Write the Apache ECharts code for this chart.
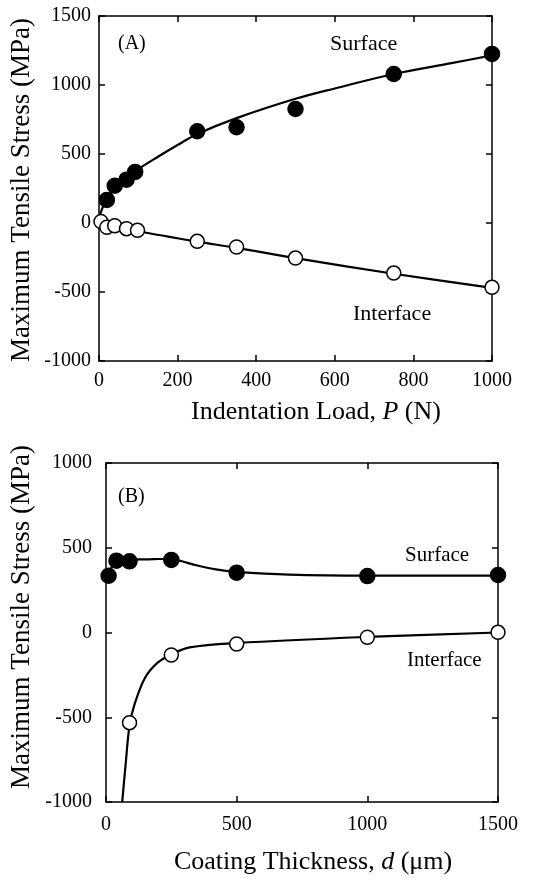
<!DOCTYPE html>
<html>
<head>
<meta charset="utf-8">
<script src="https://cdn.jsdelivr.net/npm/echarts@6/dist/echarts.min.js"></script>
<style>html,body{margin:0;padding:0;background:#fff;}#c{width:533px;height:883px;}</style>
</head>
<body>
<div id="c"></div>
<script>
// Panel A: stress vs indentation load
const loadA_surface = [20, 40, 70, 92, 250, 350, 500, 750, 1000];
const stressA_surface = [167, 270, 314, 370, 665, 694, 826, 1080, 1225];
const loadA_interface = [5, 20, 40, 70, 98, 250, 350, 500, 750, 1000];
const stressA_interface = [10, -31, -20, -41, -53, -133, -174, -254, -363, -466];
const fitA_surface_P = [0, 5, 20, 40, 70, 100, 150, 200, 250, 350, 500, 600, 750, 900, 1000];
const fitA_surface_S = [0, 80, 175, 250, 320, 390, 480, 565, 645, 760, 900, 975, 1080, 1160, 1215];
const fitA_interface_P = [0, 100, 250, 350, 500, 750, 1000];
const fitA_interface_S = [0, -60, -135, -180, -255, -368, -470];

// Panel B: stress vs coating thickness
const thickB_surface = [10, 40, 90, 250, 500, 1000, 1500];
const stressB_surface = [335, 424, 420, 428, 353, 333, 339];
const thickB_interface = [90, 250, 500, 1000, 1500];
const stressB_interface = [-532, -133, -68, -28, 1];
const fitB_surface_d = [10, 40, 90, 150, 250, 290, 350, 420, 500, 700, 1000, 1500];
const fitB_surface_S = [335, 425, 430, 432, 435, 420, 395, 372, 358, 342, 336, 336];
const fitB_interface_d = [62, 75, 90, 110, 150, 200, 250, 320, 500, 1000, 1500];
const fitB_interface_S = [-1000, -780, -550, -420, -265, -175, -130, -88, -62, -26, 0];

// Axis ticks
const ticksA_x = {min: 0, max: 1000, interval: 200};
const ticksA_y = {min: -1000, max: 1500, interval: 500};
const ticksB_x = {min: 0, max: 1500, interval: 500};
const ticksB_y = {min: -1000, max: 1000, interval: 500};

const zip = (a, b) => a.map((v, i) => [v, b[i]]);
const FONT = '"Liberation Serif", "DejaVu Serif", serif';

function axis(t, pos, grid, showLabel, margin) {
  return {
    type: 'value', gridIndex: grid, position: pos,
    min: t.min, max: t.max, interval: t.interval,
    axisLine: {show: true, onZero: false, lineStyle: {color: '#000', width: 1.5}},
    axisTick: {show: true, inside: true, length: 6, lineStyle: {color: '#000', width: 1.5}},
    axisLabel: {show: showLabel, color: '#000', fontFamily: FONT, fontSize: 20, margin: margin,
      formatter: v => String(v)},
    splitLine: {show: false}
  };
}

const chart = echarts.init(document.getElementById('c'), null, {renderer: 'canvas'});
const lineS = (data, xi, yi) => ({
  type: 'line', xAxisIndex: xi, yAxisIndex: yi, data: data, showSymbol: false,
  smooth: 0.35, lineStyle: {color: '#000', width: 2.2}, z: 2, silent: true
});
const ptS = (data, xi, yi, filled) => ({
  type: 'scatter', xAxisIndex: xi, yAxisIndex: yi, data: data, symbol: 'circle', symbolSize: filled ? 15 : 14,
  itemStyle: {color: filled ? '#000' : '#fff', borderColor: '#000', borderWidth: 1.5, opacity: 1}, z: 3, silent: true
});

const txt = (x, y, s, size) => ({type: 'text', x: x, y: y, style: {text: s, font: size + 'px ' + FONT, fill: '#000', textAlign: 'left', textVerticalAlign: 'middle'}});

chart.setOption({
  animation: false,
  grid: [
    {left: 99, top: 16, width: 393, height: 345, containLabel: false},
    {left: 106, top: 463, width: 392, height: 339, containLabel: false}
  ],
  xAxis: [
    axis(ticksA_x, 'bottom', 0, true, 10),
    axis(ticksA_x, 'top', 0, false, 8),
    axis(ticksB_x, 'bottom', 1, true, 13),
    axis(ticksB_x, 'top', 1, false, 8)
  ],
  yAxis: [
    axis(ticksA_y, 'left', 0, true, 8),
    axis(ticksA_y, 'right', 0, false, 8),
    axis(ticksB_y, 'left', 1, true, 14),
    axis(ticksB_y, 'right', 1, false, 8)
  ],
  series: [
    lineS(zip(fitA_surface_P, fitA_surface_S), 0, 0),
    lineS(zip(fitA_interface_P, fitA_interface_S), 0, 0),
    ptS(zip(loadA_surface, stressA_surface), 0, 0, true),
    ptS(zip(loadA_interface, stressA_interface), 0, 0, false),
    lineS(zip(fitB_surface_d, fitB_surface_S), 2, 2),
    lineS(zip(fitB_interface_d, fitB_interface_S), 2, 2),
    ptS(zip(thickB_surface, stressB_surface), 2, 2, true),
    ptS(zip(thickB_interface, stressB_interface), 2, 2, false)
  ],
  graphic: [
    txt(118, 44, '(A)', 20),
    txt(330, 44, 'Surface', 22),
    txt(353, 314, 'Interface', 22),
    txt(118, 497, '(B)', 20),
    txt(405, 555, 'Surface', 21),
    txt(407, 660, 'Interface', 21),
    {type: 'text', x: 22, y: 190, rotation: Math.PI / 2,
     style: {text: 'Maximum Tensile Stress (MPa)', font: '27px ' + FONT, fill: '#000', textAlign: 'center', textVerticalAlign: 'middle'}},
    {type: 'text', x: 22, y: 617, rotation: Math.PI / 2,
     style: {text: 'Maximum Tensile Stress (MPa)', font: '27px ' + FONT, fill: '#000', textAlign: 'center', textVerticalAlign: 'middle'}},
    {type: 'text', x: 316, y: 412,
     style: {text: '{n|Indentation Load, }{i|P}{n| (N)}', fill: '#000', textAlign: 'center', textVerticalAlign: 'middle',
       rich: {n: {fontFamily: FONT, fontSize: 26, color: '#000'}, i: {fontFamily: FONT, fontSize: 26, fontStyle: 'italic', color: '#000'}}}},
    {type: 'text', x: 313, y: 862,
     style: {text: '{n|Coating Thickness, }{i|d}{n| (μm)}', fill: '#000', textAlign: 'center', textVerticalAlign: 'middle',
       rich: {n: {fontFamily: FONT, fontSize: 26, color: '#000'}, i: {fontFamily: FONT, fontSize: 26, fontStyle: 'italic', color: '#000'}}}}
  ]
});
</script>
</body>
</html>
